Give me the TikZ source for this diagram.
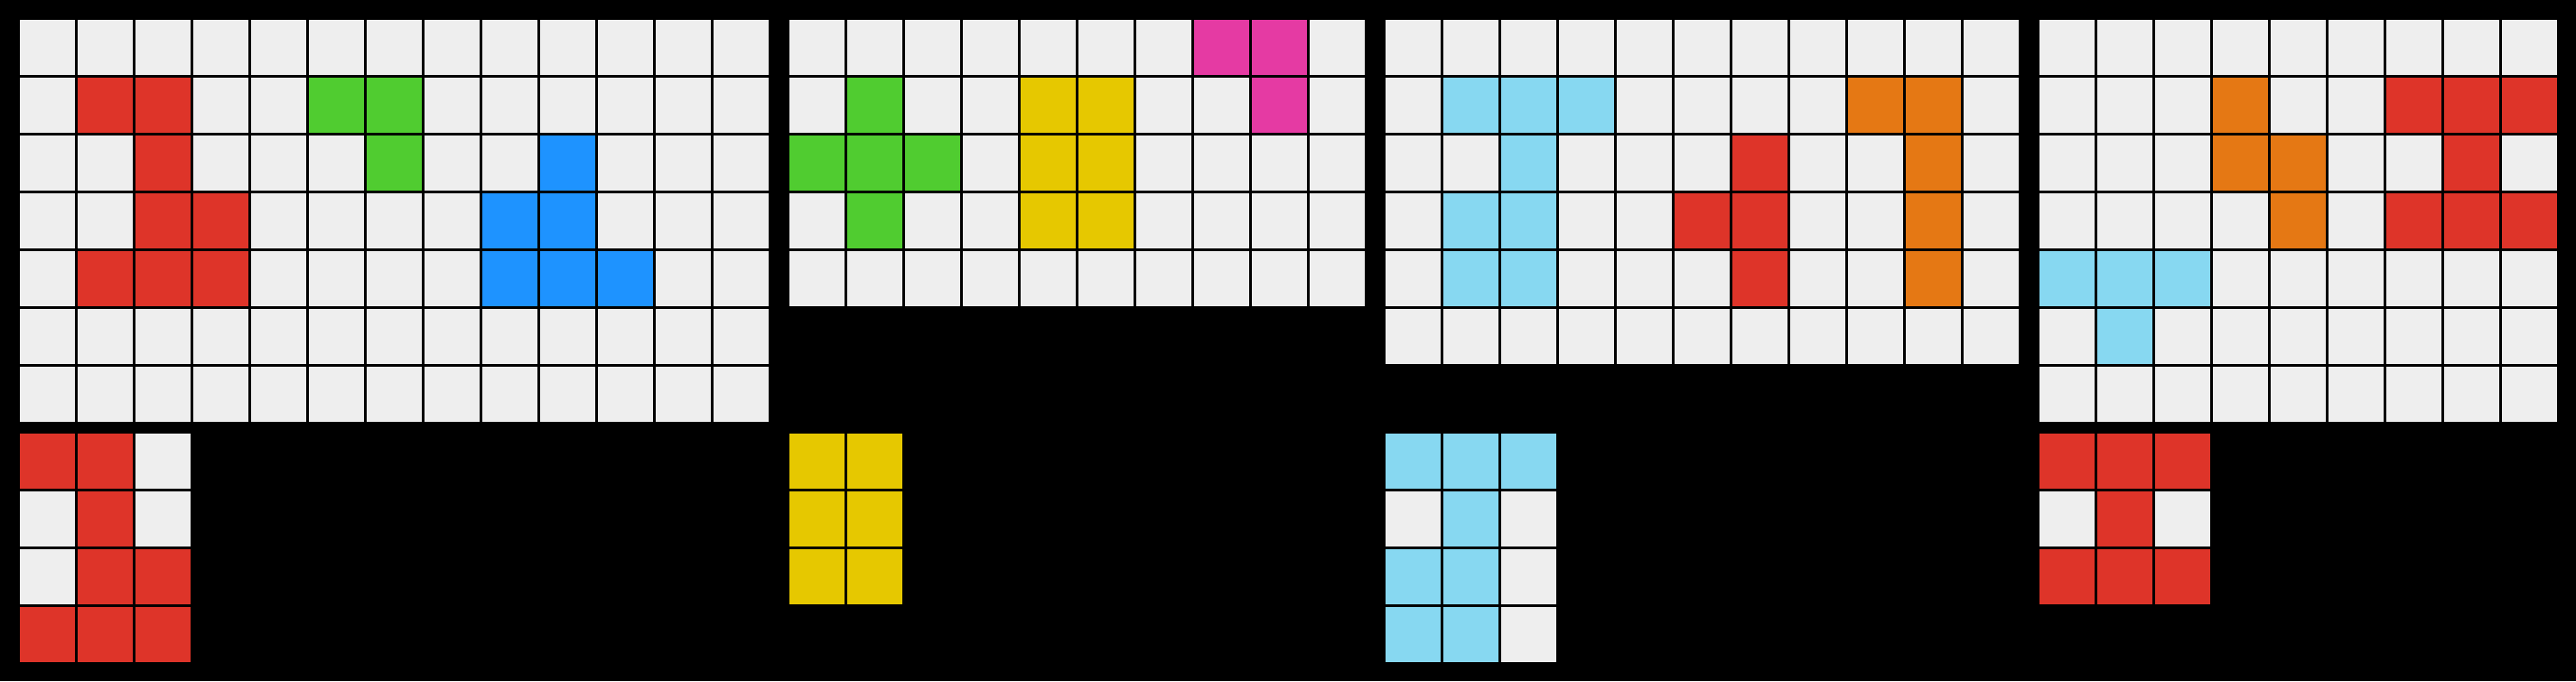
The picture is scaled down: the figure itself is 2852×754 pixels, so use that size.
\documentclass[tikz,border=0pt]{standalone}
\usepackage{tikz}

\definecolor{cell0}{HTML}{EEEEEE}
\definecolor{cell1}{HTML}{1E93FF}
\definecolor{cell2}{HTML}{DE3429}
\definecolor{cell3}{HTML}{50CC30}
\definecolor{cell4}{HTML}{E6C800}
\definecolor{cell6}{HTML}{E53AA3}
\definecolor{cell7}{HTML}{E57814}
\definecolor{cell8}{HTML}{87D8F1}

\newcommand{\arcgrid}[1]{%
  \foreach \cellrow [count=\ri from 0] in {#1}{
    \foreach \cellval [count=\ci from 0] in \cellrow{
      \fill[cell\cellval] (\ci*64,\ri*64) rectangle ++(61,61);
    }
  }}

\begin{document}
\begin{tikzpicture}[x=0.01cm, y=-0.01cm]
          \fill[black] (0,0) rectangle (2852,754);

          % pair 1
          \begin{scope}[shift={(22,22)}]
            \arcgrid{{0,0,0,0,0,0,0,0,0,0,0,0,0},
                     {0,2,2,0,0,3,3,0,0,0,0,0,0},
                     {0,0,2,0,0,0,3,0,0,1,0,0,0},
                     {0,0,2,2,0,0,0,0,1,1,0,0,0},
                     {0,2,2,2,0,0,0,0,1,1,1,0,0},
                     {0,0,0,0,0,0,0,0,0,0,0,0,0},
                     {0,0,0,0,0,0,0,0,0,0,0,0,0}}
          \end{scope}
          \begin{scope}[shift={(22,480)}]
            \arcgrid{{2,2,0},{0,2,0},{0,2,2},{2,2,2}}
          \end{scope}

          % pair 2
          \begin{scope}[shift={(874,22)}]
            \arcgrid{{0,0,0,0,0,0,0,6,6,0},
                     {0,3,0,0,4,4,0,0,6,0},
                     {3,3,3,0,4,4,0,0,0,0},
                     {0,3,0,0,4,4,0,0,0,0},
                     {0,0,0,0,0,0,0,0,0,0}}
          \end{scope}
          \begin{scope}[shift={(874,480)}]
            \arcgrid{{4,4},{4,4},{4,4}}
          \end{scope}

          % pair 3
          \begin{scope}[shift={(1534,22)}]
            \arcgrid{{0,0,0,0,0,0,0,0,0,0,0},
                     {0,8,8,8,0,0,0,0,7,7,0},
                     {0,0,8,0,0,0,2,0,0,7,0},
                     {0,8,8,0,0,2,2,0,0,7,0},
                     {0,8,8,0,0,0,2,0,0,7,0},
                     {0,0,0,0,0,0,0,0,0,0,0}}
          \end{scope}
          \begin{scope}[shift={(1534,480)}]
            \arcgrid{{8,8,8},{0,8,0},{8,8,0},{8,8,0}}
          \end{scope}

          % pair 4
          \begin{scope}[shift={(2258,22)}]
            \arcgrid{{0,0,0,0,0,0,0,0,0},
                     {0,0,0,7,0,0,2,2,2},
                     {0,0,0,7,7,0,0,2,0},
                     {0,0,0,0,7,0,2,2,2},
                     {8,8,8,0,0,0,0,0,0},
                     {0,8,0,0,0,0,0,0,0},
                     {0,0,0,0,0,0,0,0,0}}
          \end{scope}
          \begin{scope}[shift={(2258,480)}]
            \arcgrid{{2,2,2},{0,2,0},{2,2,2}}
          \end{scope}
        \end{tikzpicture}
\end{document}
